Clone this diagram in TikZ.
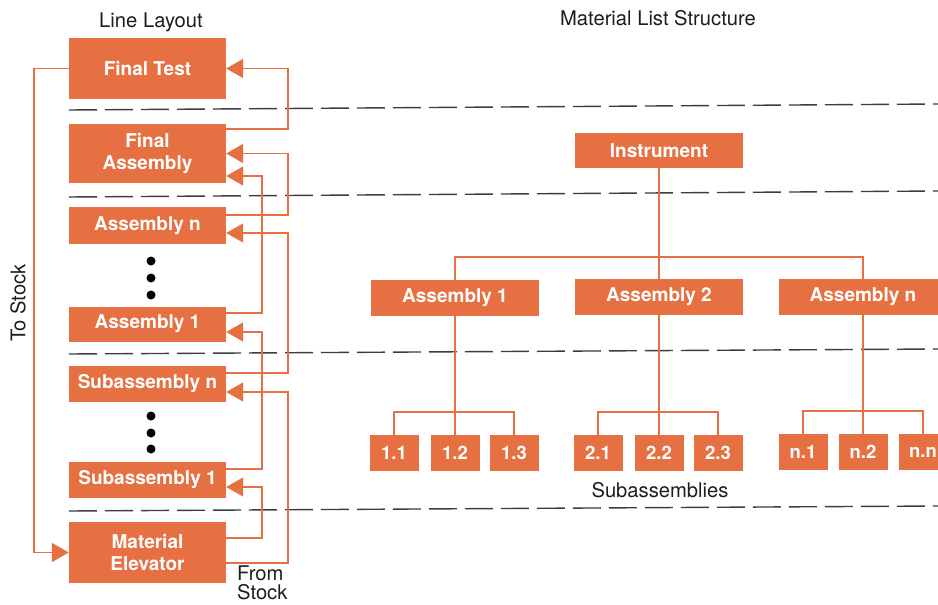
\documentclass[tikz,border=0pt]{standalone}
\usepackage{fontspec}
\setmainfont{TeX Gyre Heros}
\usetikzlibrary{arrows.meta}
\definecolor{orng}{RGB}{230,112,66}
\definecolor{ink}{RGB}{30,30,30}
\definecolor{dashc}{RGB}{60,60,60}
\newcommand\bxfont{\fontsize{19}{22}\selectfont\bfseries}
\newcommand\sbfont{\fontsize{18.5}{21}\selectfont\bfseries}
\newcommand\lbfont{\fontsize{20.2}{20}\selectfont}
\newcommand\fsfont{\fontsize{20.2}{19}\selectfont}
\begin{document}
\begin{tikzpicture}[x=1pt,y=-1pt,
  blk/.style={fill=orng, text=white, font=\bxfont, inner sep=0pt, align=center},
  lcol/.style={blk, minimum width=157pt},
  tbox/.style={blk, minimum width=168pt, minimum height=36pt},
  sbox/.style={blk, font=\sbfont, minimum width=49pt, minimum height=36pt},
  conn/.style={draw=orng, line width=1.6pt},
  arr/.style={conn, -{Triangle[length=17pt,width=19pt]}},
  sepline/.style={draw=dashc, line width=1.4pt, dash pattern=on 28pt off 8pt},
  lbl/.style={text=ink, font=\lbfont, inner sep=0pt},
  blackdot/.style={fill=black, circle, inner sep=0pt, minimum size=9pt}
]
\useasboundingbox (0,0) rectangle (938,605);
\fill[white] (0,0) rectangle (938,605);
\clip (0,0) rectangle (938,605);

% separators
\draw[sepline] (69,110) -- (938,104);
\draw[sepline] (69,197) -- (938,191);
\draw[sepline] (69,354) -- (938,349);
\draw[sepline] (69,511) -- (938,506);

% titles and labels
\node[lbl] (t1) at (151,22) {Line Layout};
\node[lbl] (t2) at (658,18) {Material List Structure};
\node[lbl, rotate=90] (tostock) at (18,303) {To Stock};
\node[lbl, font=\fsfont, align=left, anchor=north west] (fromstock) at (237,566) {From\\Stock};
\node[lbl] (subs) at (660,490) {Subassemblies};

% line layout
\node[lcol, minimum height=61pt] (ft) at (147.5,68.5) {Final Test};
\node[lcol, minimum height=59pt] (fa) at (147.5,153.5) {Final\\Assembly};
\node[lcol, minimum height=37pt] (asn) at (147.5,225.5) {Assembly n};
\node[lcol, minimum height=35pt] (as1) at (147.5,324) {Assembly 1};
\node[lcol, minimum height=36pt] (sbn) at (147.5,384) {Subassembly n};
\node[lcol, minimum height=36pt] (sb1) at (147.5,480) {Subassembly 1};
\node[lcol, minimum height=61pt] (me) at (147.5,552.5) {Material\\Elevator};

\node[blackdot] (d1) at (151,261) {};
\node[blackdot] (d2) at (151,278) {};
\node[blackdot] (d3) at (151,295) {};
\node[blackdot] (d4) at (151,416) {};
\node[blackdot] (d5) at (151,433) {};
\node[blackdot] (d6) at (151,449) {};

% flow connectors
\draw[arr] ([yshift=24.5pt]fa.east) -- ++(62,0) |- (ft.east);
\draw[arr] ([yshift=10.5pt]asn.east) -- ++(62,0) |- (fa.east);
\draw[arr] ([yshift=11pt]as1.east) -- ++(36,0) |- ([yshift=-22.5pt]fa.east);
\draw[arr] ([yshift=11pt]sbn.east) -- ++(62,0) |- ([yshift=-7.5pt]asn.east);
\draw[arr] ([yshift=11pt]sb1.east) -- ++(36,0) |- ([yshift=-8pt]as1.east);
\draw[arr] ([yshift=-10.5pt]me.east) -- ++(62,0) |- ([yshift=-8pt]sbn.east);
\draw[arr] ([yshift=14.5pt]me.east) -- ++(36,0) |- ([yshift=-7pt]sb1.east);
\draw[arr] (ft.west) -- ++(-35,0) |- (me.west);

% material list structure
\node[tbox, minimum height=35pt] (inst) at (659,150.5) {Instrument};
\node[tbox] (a1) at (455,298) {Assembly 1};
\node[tbox] (a2) at (659,297) {Assembly 2};
\node[tbox] (an) at (863,297) {Assembly n};

\node[sbox] (s11) at (394,453) {1.1};
\node[sbox] (s12) at (455,453) {1.2};
\node[sbox] (s13) at (514,453) {1.3};
\node[sbox] (s21) at (598,453) {2.1};
\node[sbox] (s22) at (659,453) {2.2};
\node[sbox] (s23) at (718,453) {2.3};
\node[sbox] (sn1) at (803,452) {n.1};
\node[sbox] (sn2) at (863,452) {n.2};
\node[sbox] (snn) at (923,452) {n.n};

\coordinate (busA) at (659,257);
\coordinate (bus1) at (455,412);
\coordinate (bus2) at (659,412);
\coordinate (busn) at (863,411);

\draw[conn] (inst) -- (a2);
\draw[conn] (a1.north) |- (busA) -| (an.north);
\draw[conn] (a1) -- (s12);
\draw[conn] (a2) -- (s22);
\draw[conn] (an) -- (sn2);
\draw[conn] (s11.north) |- (bus1) -| (s13.north);
\draw[conn] (s21.north) |- (bus2) -| (s23.north);
\draw[conn] (sn1.north) |- (busn) -| (snn.north);
\end{tikzpicture}
\end{document}
